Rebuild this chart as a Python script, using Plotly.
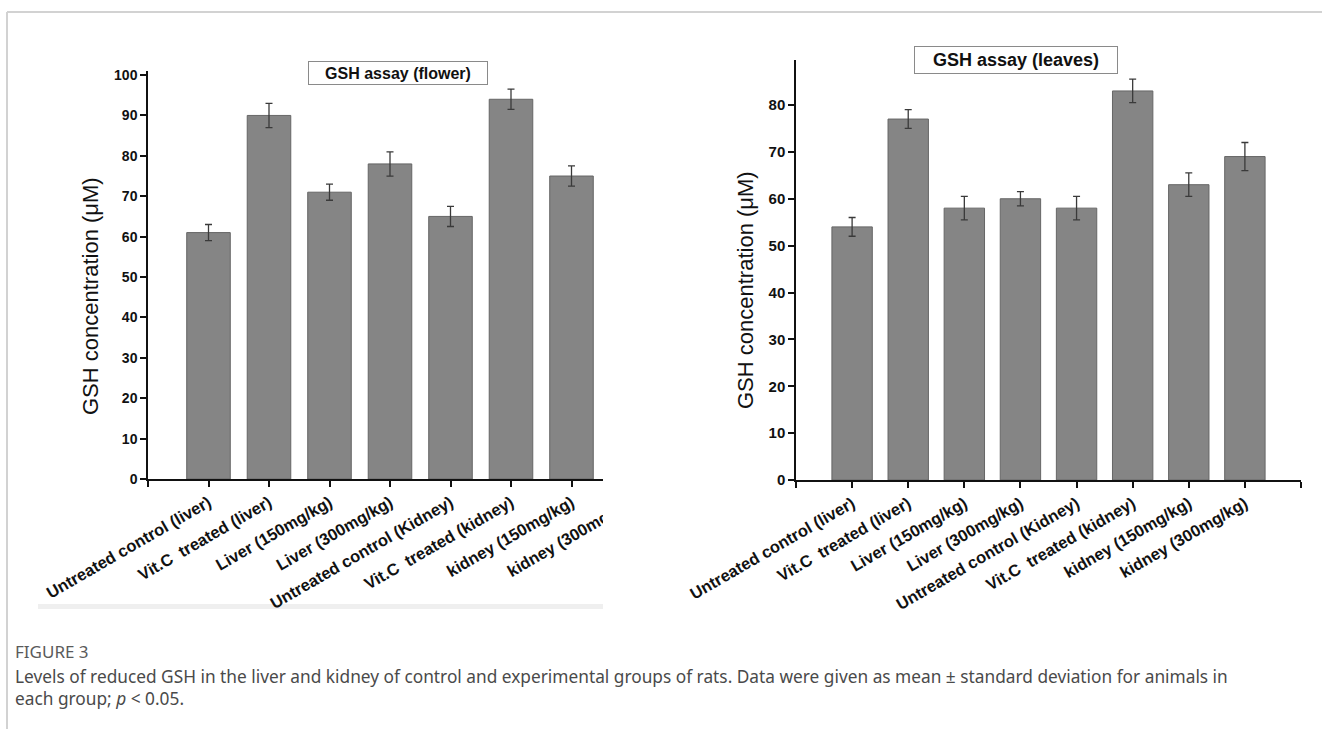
import plotly.graph_objects as go

W, H = 1322, 729

# Group labels shared by both panels
categories = [
    "Untreated control (liver)",
    "Vit.C\u00a0 treated (liver)",
    "Liver (150mg/kg)",
    "Liver (300mg/kg)",
    "Untreated control (Kidney)",
    "Vit.C\u00a0 treated (kidney)",
    "kidney (150mg/kg)",
    "kidney (300mg/kg)",
]

# GSH concentration (uM), mean and SD
flower_mean = [61, 90, 71, 78, 65, 94, 75]
flower_sd = [2, 3, 2, 3, 2.5, 2.5, 2.5]

leaves_mean = [54, 77, 58, 60, 58, 83, 63, 69]
leaves_sd = [2, 2, 2.5, 1.5, 2.5, 2.5, 2.5, 3]

flower_ticks = list(range(0, 101, 10))
leaves_ticks = list(range(0, 81, 10))

caption_title = "FIGURE 3"
caption_lines = [
    "Levels of reduced GSH in the liver and kidney of control and experimental groups of rats. "
    "Data were given as mean \u00b1 standard deviation for animals in",
    "each group; <i>p</i> &lt; 0.05.",
]


def px(x):
    return x / W


def py(y):
    return 1 - y / H


BAR_FILL = "#858585"
BAR_EDGE = "#666666"
ERR = "#3a3a3a"
AXIS = "#111111"
FONT = "Liberation Sans, Arial, sans-serif"


def bar_trace(values, sds, xa, ya):
    return go.Bar(
        x=list(range(1, len(values) + 1)),
        y=values,
        width=0.72,
        marker=dict(color=BAR_FILL, line=dict(color=BAR_EDGE, width=1)),
        error_y=dict(type="data", array=sds, visible=True, color=ERR, thickness=1.3, width=3.5),
        xaxis=xa,
        yaxis=ya,
        showlegend=False,
        hoverinfo="skip",
    )


fig = go.Figure()
fig.add_trace(bar_trace(flower_mean, flower_sd, "x", "y"))
fig.add_trace(bar_trace(leaves_mean, leaves_sd, "x2", "y2"))

xcommon = dict(
    range=[0, 9],
    tickmode="array",
    tickvals=list(range(0, 10)),
    ticktext=[""] + categories + [""],
    tickangle=-30,
    ticks="outside",
    ticklen=6,
    tickwidth=1.5,
    tickcolor=AXIS,
    showline=True,
    linecolor=AXIS,
    linewidth=1.5,
    showgrid=False,
    zeroline=False,
    fixedrange=True,
    automargin=False,
)
ycommon = dict(
    ticks="outside",
    ticklen=6,
    tickwidth=1.5,
    tickcolor=AXIS,
    showline=True,
    linecolor=AXIS,
    linewidth=1.5,
    showgrid=False,
    zeroline=False,
    fixedrange=True,
    tickmode="array",
    automargin=False,
)

fig.update_layout(
    width=W,
    height=H,
    margin=dict(l=0, r=0, t=0, b=0, autoexpand=False),
    paper_bgcolor="white",
    plot_bgcolor="white",
    font=dict(family=FONT, color="#111111"),
    xaxis=dict(
        xcommon,
        domain=[px(148), px(692.5)],
        anchor="y",
        tickfont=dict(family=FONT, size=16.5, weight="bold", color="#111111"),
    ),
    yaxis=dict(
        ycommon,
        domain=[py(479), py(71)],
        range=[0, 101],
        tickvals=flower_ticks,
        anchor="x",
        tickfont=dict(family=FONT, size=14, weight="bold", color="#111111"),
    ),
    xaxis2=dict(
        xcommon,
        domain=[px(796), px(1301)],
        anchor="y2",
        tickfont=dict(family=FONT, size=16.5, weight="bold", color="#111111"),
    ),
    yaxis2=dict(
        ycommon,
        domain=[py(480), py(60)],
        range=[0, 89.6],
        tickvals=leaves_ticks,
        anchor="x2",
        tickfont=dict(family=FONT, size=15, weight="bold", color="#111111"),
    ),
)

annotations = [
    # panel headings in boxes
    dict(text="<b>GSH assay (flower)</b>", x=px(398), y=py(73), xref="paper", yref="paper",
         showarrow=False, font=dict(family=FONT, size=16, color="#111111"),
         bordercolor="#8a8a8a", borderwidth=1, borderpad=2, bgcolor="white",
         width=174, height=18, xanchor="center", yanchor="middle"),
    dict(text="<b>GSH assay (leaves)</b>", x=px(1016), y=py(60), xref="paper", yref="paper",
         showarrow=False, font=dict(family=FONT, size=18, color="#111111"),
         bordercolor="#8a8a8a", borderwidth=1, borderpad=2, bgcolor="white",
         width=198, height=22, xanchor="center", yanchor="middle"),
    # y axis titles
    dict(text="GSH concentration (\u03bcM)", x=px(90), y=py(296), xref="paper", yref="paper",
         showarrow=False, textangle=-90, font=dict(family=FONT, size=22, color="#111111"),
         xanchor="center", yanchor="middle"),
    dict(text="GSH concentration (\u03bcM)", x=px(745), y=py(290), xref="paper", yref="paper",
         showarrow=False, textangle=-90, font=dict(family=FONT, size=22, color="#111111"),
         xanchor="center", yanchor="middle"),
    # caption
    dict(text=caption_title, x=px(13), y=py(651), xref="paper", yref="paper",
         showarrow=False, xanchor="left", yanchor="middle",
         font=dict(family="Noto Sans", size=17, color="#5a5a5a")),
]
for i, line in enumerate(caption_lines):
    annotations.append(
        dict(text=line, x=px(13), y=py(676 + 22 * i), xref="paper", yref="paper",
             showarrow=False, xanchor="left", yanchor="middle",
             font=dict(family="Noto Sans", size=17.3, color="#4a4a4a"))
    )
fig.update_layout(annotations=annotations)

shapes = [
    # outer frame of the figure box
    dict(type="line", xref="paper", yref="paper", x0=px(7), x1=1, y0=py(12), y1=py(12),
         line=dict(color="#d2d2d2", width=2), layer="above"),
    dict(type="line", xref="paper", yref="paper", x0=px(7), x1=px(7), y0=py(12), y1=0,
         line=dict(color="#d2d2d2", width=2), layer="above"),
    # right edge of the flower panel is trimmed (axis end and last label)
    dict(type="rect", xref="paper", yref="paper", x0=px(603), x1=px(700), y0=py(545), y1=py(40),
         fillcolor="white", line=dict(width=0), layer="above"),
    # thin strip under the flower panel
    dict(type="rect", xref="paper", yref="paper", x0=px(38), x1=px(603), y0=py(609), y1=py(604),
         fillcolor="#efefef", line=dict(width=0), layer="below"),
]
fig.update_layout(shapes=shapes)

fig.write_html("out.html")
